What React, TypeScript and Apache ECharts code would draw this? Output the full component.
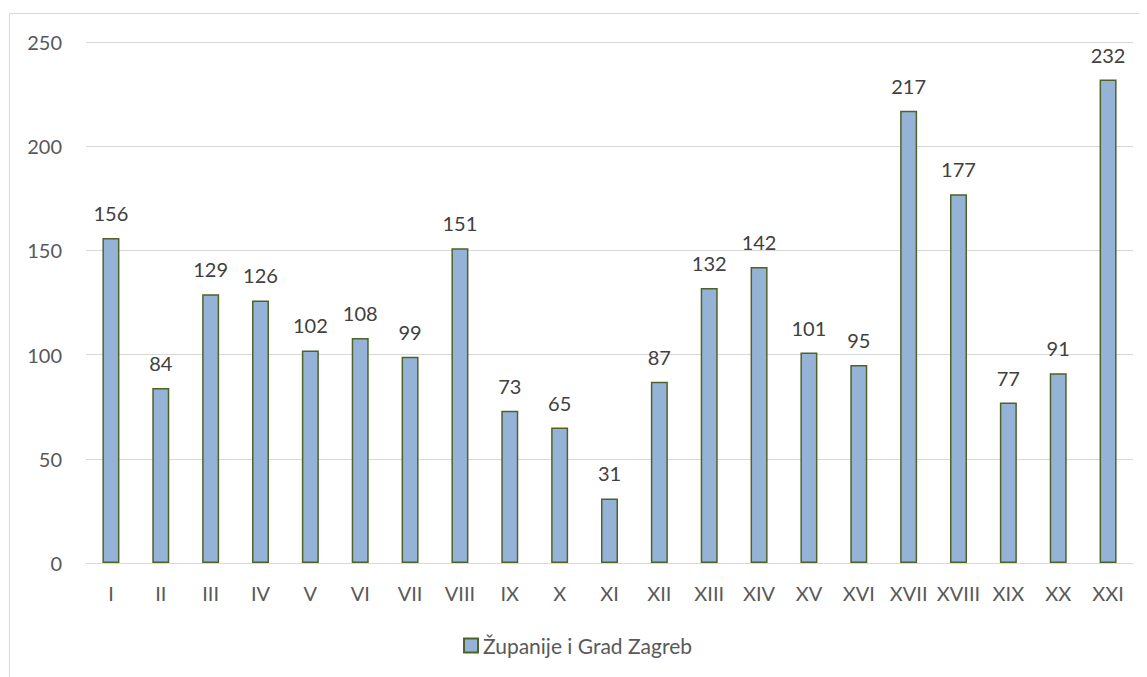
import React, { useEffect, useRef } from "react";
import * as echarts from "echarts";

const categories = ["I","II","III","IV","V","VI","VII","VIII","IX","X","XI","XII","XIII","XIV","XV","XVI","XVII","XVIII","XIX","XX","XXI"];
const values = [156,84,129,126,102,108,99,151,73,65,31,87,132,142,101,95,217,177,77,91,232];
const seriesName = "Županije i Grad Zagreb";
const FONT = "Lato, 'Open Sans', sans-serif";

export default function App() {
  const ref = useRef<HTMLDivElement>(null);
  useEffect(() => {
    if (!ref.current) return;
    const chart = echarts.init(ref.current, undefined, { renderer: "svg" });
    chart.setOption({
      animation: false,
      textStyle: { fontFamily: FONT },
      graphic: [
        { type: "rect", shape: { x: 1.5, y: 5.5, width: 1300, height: 1000 }, style: { fill: "none", stroke: "#D9D9D9", lineWidth: 1 }, silent: true },
      ],
      grid: { left: 78, right: 14, top: 34, bottom: 114 },
      legend: {
        bottom: 16,
        left: "center",
        itemWidth: 14,
        itemHeight: 14,
        itemGap: 10,
        icon: "rect",
        textStyle: { fontSize: 21, color: "#595959", fontFamily: FONT },
        data: [seriesName],
      },
      xAxis: {
        type: "category",
        data: categories,
        axisLine: { lineStyle: { color: "#D9D9D9", width: 1 } },
        axisTick: { show: false },
        axisLabel: { color: "#595959", fontSize: 20, margin: 20, interval: 0, fontFamily: FONT },
      },
      yAxis: {
        type: "value",
        min: 0,
        max: 250,
        interval: 50,
        axisLine: { show: false },
        axisTick: { show: false },
        splitLine: { lineStyle: { color: "#D9D9D9", width: 1 } },
        axisLabel: { color: "#595959", fontSize: 20, margin: 24, fontFamily: FONT },
      },
      series: [
        {
          name: seriesName,
          type: "bar",
          data: values,
          barWidth: 17,
          itemStyle: { color: "#95B3D7", borderColor: "#4F6228", borderWidth: 1.5 },
          label: { show: true, position: "top", distance: 15, color: "#404040", fontSize: 20, fontFamily: FONT },
        },
      ],
    });
    return () => chart.dispose();
  }, []);
  return <div ref={ref} style={{ width: 1139, height: 669 }} />;
}
